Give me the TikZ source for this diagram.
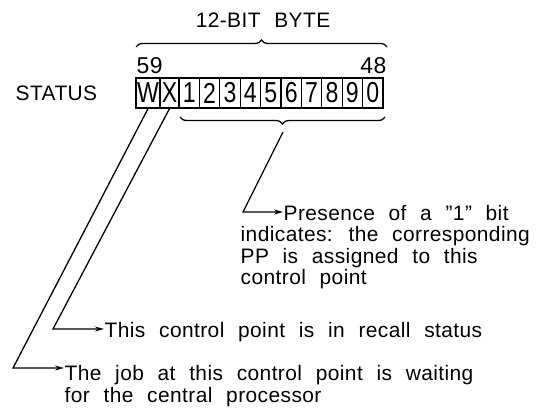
\documentclass[tikz,border=0pt]{standalone}
\usepackage{fontspec}
\setmainfont[LetterSpace=2,WordSpace=2.2]{Liberation Sans}
\newfontfamily\boxfont[FakeStretch=0.8]{Liberation Sans}
\usetikzlibrary{decorations.pathreplacing,arrows.meta}

\tikzset{
  bitbox/.style={draw, minimum height=30bp, inner sep=0pt,
    font=\boxfont\fontsize{29}{29}\selectfont},
  lbl/.style={font=\fontsize{21}{21.5}\selectfont, inner sep=0pt},
  numlbl/.style={font=\fontsize{23}{23}\selectfont, inner sep=0pt},
  lead/.style={-{Stealth[length=9bp,width=5bp]}},
  bytebrace/.style={decorate, decoration={brace, amplitude=7bp}},
}

\begin{document}
\begin{tikzpicture}[x=1bp,y=-1bp,line width=1.3bp]
\useasboundingbox (0,0) rectangle (540,411);

% the status word
\node[lbl, anchor=base west] (status) at (15,100) {STATUS};
\node[bitbox, minimum width=24bp] (bW) at (148,93) {W};
\node[bitbox, minimum width=19bp] (bX) at (169.5,93) {X};
\foreach \d [count=\i] in {1,2,3,4,5,6,7,8,9,0}
  \node[bitbox, minimum width=20.4bp] (b\i) at ({168.8+20.4*\i},93) {\d};

\node[numlbl, anchor=base west] (n59) at (136,73) {59};
\node[numlbl, anchor=base east] (n48) at (387,73) {48};

% braces
\draw[bytebrace] (136,47) -- (387,47);
\node[lbl, anchor=base] (byte) at (263,27) {12-BIT BYTE};
\draw[bytebrace] (385,117) -- (180,117);
\coordinate (tip) at (283,132);

% explanations
\node[lbl, anchor=base west] (pres) at (283,220) {Presence of a \char34 1\char34{} bit};
\node[lbl, align=left, anchor=north west] (presmore) at (240,226)
  {indicates: the corresponding\\PP is assigned to this\\control point};
\node[lbl, anchor=base west] (recall) at (104,337) {This control point is in recall status};
\node[lbl, align=left, anchor=north west] (job) at (64,365)
  {The job at this control point is waiting\\for the central processor};

\coordinate (c1) at (243,212);
\coordinate (c2) at (53,329);
\coordinate (c3) at (13,368);
\draw[lead] (tip) -- (c1) -- (c1 -| pres.west);
\draw[lead] (bX.south) -- (c2) -- (c2 -| recall.west);
\draw[lead] (bW.south) -- (c3) -- (c3 -| job.west);
\end{tikzpicture}
\end{document}
